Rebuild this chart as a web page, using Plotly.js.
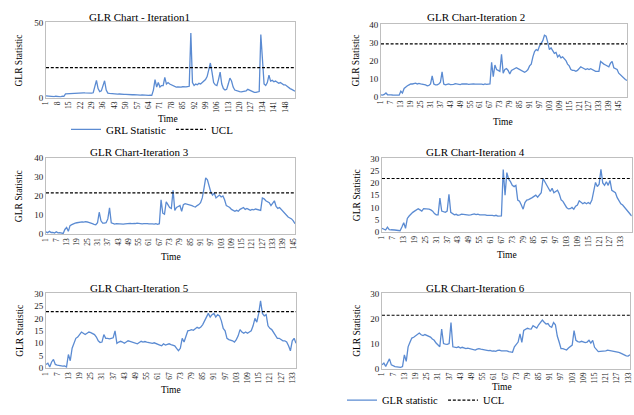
<!DOCTYPE html>
<html><head><meta charset="utf-8">
<script src="https://cdn.plot.ly/plotly-3.0.1.min.js"></script>
<style>html,body{margin:0;padding:0;background:#fff}#c{width:634px;height:415px}</style>
</head><body><div id="c"></div>
<script>
// ---- data ----
const titles = ["GLR Chart - Iteration1","GLR Chart-Iteration 2","GLR Chart-Iteration 3","GLR Chart-Iteration 4","GLR Chart-Iteration 5","GLR Chart-Iteration 6"];
const seriesNames = ["GRL Statistic","GLR statistic"];
const uclName = "UCL";
const ucl = [20, 29.2, 21.6, 21.8, 22.7, 21.3];
const yMax = [50, 40, 40, 30, 30, 30];
const yStep = [50, 10, 10, 5, 5, 10];
const tickStep = [7, 6, 6, 6, 6, 6];

const iter1 = [1.2,1.0,0.8,1.1,0.9,0.7,0.9,0.6,0.8,0.5,1.0,0.8,2.5,2.6,2.8,2.7,2.9,3.0,2.9,3.0,
3.1,3.0,3.1,3.2,3.1,3.0,3.2,3.1,3.0,3.2,8.0,11.5,6.0,4.0,4.5,8.0,11.2,5.0,3.0,
2.8,2.6,2.5,2.4,2.5,2.3,2.4,2.2,2.3,2.1,2.2,2.0,2.1,2.0,1.9,2.0,1.8,1.9,1.8,1.7,1.8,1.6,1.7,1.6,1.5,1.6,1.5,
5.0,12.0,7.0,10.0,7.0,8.0,8.0,13.5,9.0,10.0,9.0,8.5,8.0,
7.2,7.0,7.1,6.9,7.0,7.2,7.0,7.1,7.3,
7.5,43.0,10.0,8.0,9.0,8.5,9.5,9.0,10.0,10.5,12.0,14.0,18.0,23.0,17.0,10.0,8.5,8.0,12.0,17.0,
9.0,6.0,5.0,5.5,9.0,13.0,11.0,7.0,5.0,4.5,4.0,4.0,3.8,4.0,4.2,4.5,5.5,5.0,4.0,3.8,3.5,3.5,3.8,4.0,
42.0,22.0,9.0,8.0,10.0,15.0,11.0,11.5,10.5,11.0,10.0,9.5,10.0,9.0,8.5,8.5,7.5,7.0,6.0,5.5,5.0,4.2];

const iter2 = [1.0,0.8,1.2,2.0,1.0,0.8,1.0,0.9,0.8,0.7,0.6,0.8,3.0,2.0,4.5,5.5,6.0,6.5,7.0,7.0,
7.2,7.5,7.0,7.3,7.0,6.8,7.0,6.5,6.0,6.2,7.0,11.5,7.0,6.5,6.5,7.0,8.0,13.7,7.0,6.5,
6.8,7.0,6.6,6.5,6.8,7.2,7.0,6.9,6.7,7.0,7.1,7.3,7.0,6.8,7.0,7.2,7.1,6.9,7.0,6.8,7.1,6.9,6.7,7.0,6.8,6.9,
7.0,19.0,11.0,17.5,15.0,14.5,14.0,23.5,13.0,15.0,15.5,14.5,12.5,14.5,15.0,15.5,16.0,15.5,15.0,14.5,
14.0,13.5,14.0,15.0,17.0,18.0,22.0,25.0,26.0,25.5,28.0,29.5,31.0,34.0,33.5,30.0,26.0,27.0,25.5,24.0,
24.5,22.0,23.0,21.5,22.0,21.0,20.0,18.0,17.0,15.0,14.5,14.5,14.0,14.5,15.5,16.5,16.0,15.5,15.0,15.5,
15.0,15.5,15.0,14.5,14.0,14.0,14.0,19.5,18.5,18.0,17.5,17.0,16.5,18.5,19.5,16.0,15.5,15.0,13.0,12.0,
11.0,10.5,9.5,9.0];

const iter3 = [1.2,0.8,1.5,0.9,1.0,0.6,1.3,0.7,0.8,0.5,0.4,2.5,3.5,1.5,4.5,5.0,5.5,5.8,6.0,6.2,
6.0,6.5,6.3,6.6,6.4,6.2,6.0,5.5,5.2,5.0,6.0,11.5,7.0,5.8,5.8,6.0,8.0,13.8,6.0,5.5,
5.3,5.5,5.4,5.6,5.5,5.3,5.4,5.6,5.5,5.7,5.5,5.4,5.6,5.8,5.6,5.5,5.4,5.5,5.3,5.5,5.4,5.2,5.4,5.3,5.5,5.2,
5.5,18.0,11.0,10.5,17.0,15.5,14.0,13.5,23.0,12.5,14.0,14.5,15.0,12.0,15.5,16.0,15.8,15.5,15.5,15.0,
14.5,14.2,15.0,15.5,16.5,19.0,24.0,29.5,28.5,25.0,22.0,20.5,21.5,19.0,20.0,20.5,19.5,20.0,18.0,15.0,
14.5,14.0,13.0,12.5,12.0,12.5,12.0,13.0,13.5,14.0,13.0,13.5,13.0,12.5,13.0,12.8,13.2,13.0,12.5,12.5,
19.0,18.5,17.5,17.0,16.5,15.0,16.5,17.5,14.5,13.5,14.0,13.0,11.5,10.5,9.5,9.0,8.5,8.0,7.0,5.5];

const iter4 = [1.5,1.3,0.8,2.0,1.0,0.9,1.0,0.8,0.7,0.6,0.5,2.0,3.8,1.5,5.5,6.5,7.5,8.0,8.5,9.0,
9.5,9.0,8.5,9.5,9.5,9.5,9.3,9.0,8.5,7.5,7.0,7.0,13.8,8.5,8.2,8.0,8.5,15.4,8.0,7.5,
7.0,7.2,6.8,7.0,7.3,7.2,7.0,7.1,6.9,7.0,7.2,7.4,7.1,7.3,7.0,7.1,6.9,7.0,6.8,6.9,
6.7,6.8,6.6,6.8,6.5,6.7,6.6,25.5,15.0,24.2,21.5,20.5,19.0,18.5,19.0,13.0,12.5,11.0,9.3,12.0,
13.0,13.2,13.5,14.0,14.5,15.0,14.2,15.0,16.0,21.8,20.5,19.0,18.0,16.5,17.8,16.0,16.5,17.0,15.5,13.1,
12.5,11.0,10.0,9.4,9.5,10.0,9.3,10.5,11.0,12.7,12.0,11.5,12.0,11.5,12.0,11.5,13.0,17.0,20.2,18.5,
19.5,25.5,20.0,19.0,20.5,19.0,21.0,17.0,16.5,16.0,14.0,12.5,11.5,11.0,10.0,9.5,8.5,7.5,6.5];

const iter5 = [1.5,2.0,0.5,2.5,3.5,1.5,1.2,1.0,1.0,0.8,0.9,0.5,5.5,3.0,8.0,10.5,12.0,12.5,13.5,14.5,
14.0,13.5,14.0,14.5,14.3,14.0,13.5,12.5,11.0,10.3,10.5,13.5,12.0,12.0,11.8,12.0,12.2,15.0,10.0,10.5,
10.8,10.5,10.0,10.5,11.0,10.8,10.5,10.3,10.0,9.8,10.3,10.8,10.5,10.7,10.5,10.3,10.2,10.0,10.2,9.8,
9.5,9.3,9.0,9.8,9.3,9.5,9.8,9.5,9.2,9.0,8.0,7.0,8.0,12.0,10.5,13.0,15.0,15.2,15.5,15.2,
15.8,16.4,16.0,16.5,17.5,19.0,20.5,22.0,20.5,21.5,22.0,20.5,21.5,21.0,19.0,16.0,15.0,12.0,11.5,11.3,
11.0,10.5,11.5,13.0,15.5,14.5,14.0,14.5,14.0,14.5,15.0,17.0,20.0,18.5,22.0,27.0,22.0,21.0,21.5,17.0,
16.0,15.5,14.5,13.0,12.0,12.0,11.5,11.0,11.0,10.5,9.0,7.0,11.0,12.0,10.0];

const iter6 = [1.5,2.2,0.9,2.5,3.9,1.5,1.0,0.8,0.7,0.6,0.5,0.8,5.5,2.9,8.7,10.5,12.2,12.5,13.2,13.8,
14.2,13.5,13.2,13.6,13.2,13.0,12.6,11.8,11.3,10.2,9.4,8.7,15.8,10.0,9.8,9.7,10.0,18.4,8.7,8.5,
8.4,8.7,8.2,8.5,8.3,8.0,8.2,8.0,7.8,7.6,7.4,7.8,8.0,7.8,7.6,7.5,7.4,7.2,7.3,7.0,
7.1,6.9,7.3,7.4,7.1,7.2,7.0,7.1,6.8,6.6,6.5,8.7,9.5,10.6,13.9,10.5,15.2,15.6,16.1,15.9,
15.8,17.1,16.5,16.2,17.5,18.7,19.4,18.5,17.8,18.0,16.9,16.5,18.4,17.5,13.0,10.6,8.0,8.0,7.6,7.4,
8.2,8.7,9.4,15.2,11.3,10.8,10.6,10.9,10.7,10.4,10.6,11.3,10.2,11.3,8.5,7.4,6.8,6.9,7.0,6.8,
7.1,7.4,7.3,7.0,7.1,6.9,6.6,6.5,6.2,5.8,5.5,5.1,5.0,5.5];

const allSeries = [iter1, iter2, iter3, iter4, iter5, iter6];

// ---- layout geometry (pixels in the 634x415 figure) ----
const W = 634, H = 415;
const boxes = [ // [left, right, top, bottom]
  [46, 295, 23, 100], [381, 627, 25, 99],
  [46, 295, 161.7, 240], [382, 631.7, 162.3, 237.7],
  [46, 296, 300.7, 377.3], [382, 630, 300.7, 377.7]
];
const titlePos = [[139,17],[475.5,17],[139,155.7],[475,155.7],[139,295],[475.5,295]];
const yTitlePos = [[19,62],[356,62],[19,201],[357,200],[20,339],[357,339]];
const timePos = [[168,121.5],[503,124.5],[171,263],[506.7,261],[171,399.5],[502,397]];

const px = v => v / W, py = v => 1 - v / H;
const SERIF = "'Liberation Serif', 'Times New Roman', serif";
const BLUE = "#5b8bd2";

const data = [], layout = {
  width: W, height: H, autosize: false,
  margin: {l:0, r:0, t:0, b:0},
  paper_bgcolor: "#fff", plot_bgcolor: "#fff",
  font: {family: SERIF, color: "#000"},
  annotations: [], showlegend: true,
  legend: {orientation: "h", x: px(66), y: py(132.5), xanchor: "left", yanchor: "middle",
           font: {family: SERIF, size: 11, color: "#000"}, bgcolor: "rgba(0,0,0,0)", itemwidth: 30, tracegroupgap: 0},
  legend2: {orientation: "h", x: px(342), y: py(410), xanchor: "left", yanchor: "middle",
           font: {family: SERIF, size: 10.5, color: "#000"}, bgcolor: "rgba(0,0,0,0)", itemwidth: 30, tracegroupgap: 0}
};

allSeries.forEach((vals, k) => {
  const n = vals.length;
  const xs = vals.map((_, i) => i + 1);
  const sfx = k === 0 ? "" : String(k + 1);
  const [l, r, t, b] = boxes[k];
  const ticks = [];
  for (let v = 1; v <= n; v += tickStep[k]) ticks.push(v);
  const legendId = k === 0 ? "legend" : (k === 5 ? "legend2" : null);

  data.push({
    x: xs, y: vals, type: "scatter", mode: "lines",
    name: k === 0 ? seriesNames[0] : seriesNames[1],
    line: {color: BLUE, width: 1.3},
    xaxis: "x" + sfx, yaxis: "y" + sfx,
    showlegend: legendId !== null, legend: legendId || "legend",
    hoverinfo: "skip"
  });
  data.push({
    x: [1, n], y: [ucl[k], ucl[k]], type: "scatter", mode: "lines",
    name: uclName,
    line: {color: "#000", width: 1.2, dash: "3px,1.8px"},
    xaxis: "x" + sfx, yaxis: "y" + sfx,
    showlegend: legendId !== null, legend: legendId || "legend",
    hoverinfo: "skip"
  });

  layout["xaxis" + sfx] = {
    domain: [px(l), px(r)], anchor: "y" + sfx, range: [1, n],
    tickmode: "array", tickvals: ticks, ticktext: ticks.map(String),
    tickangle: -90, tickfont: {family: SERIF, size: 7.5, color: "#222"},
    showgrid: false, zeroline: false, showline: true, mirror: true,
    linecolor: "#bfbfbf", linewidth: 1, ticks: "", fixedrange: true
  };
  layout["yaxis" + sfx] = {
    domain: [py(b), py(t)], anchor: "x" + sfx, range: [0, yMax[k]],
    dtick: yStep[k], tick0: 0, tickfont: {family: SERIF, size: 9, color: "#222"},
    showgrid: false, zeroline: false, showline: true, mirror: true,
    linecolor: "#bfbfbf", linewidth: 1, ticks: "", fixedrange: true
  };

  layout.annotations.push({text: titles[k], x: px(titlePos[k][0]), y: py(titlePos[k][1]),
    xref: "paper", yref: "paper", showarrow: false, xanchor: "center", yanchor: "middle",
    font: {family: SERIF, size: 11, color: "#000"}});
  layout.annotations.push({text: "GLR Statistic", x: px(yTitlePos[k][0]), y: py(yTitlePos[k][1]),
    xref: "paper", yref: "paper", showarrow: false, textangle: -90, xanchor: "center", yanchor: "middle",
    font: {family: SERIF, size: 9.5, color: "#000"}});
  layout.annotations.push({text: "Time", x: px(timePos[k][0]), y: py(timePos[k][1]),
    xref: "paper", yref: "paper", showarrow: false, xanchor: "center", yanchor: "middle",
    font: {family: SERIF, size: 9.5, color: "#000"}});
});

Plotly.newPlot("c", data, layout, {staticPlot: true, displayModeBar: false});
</script></body></html>
